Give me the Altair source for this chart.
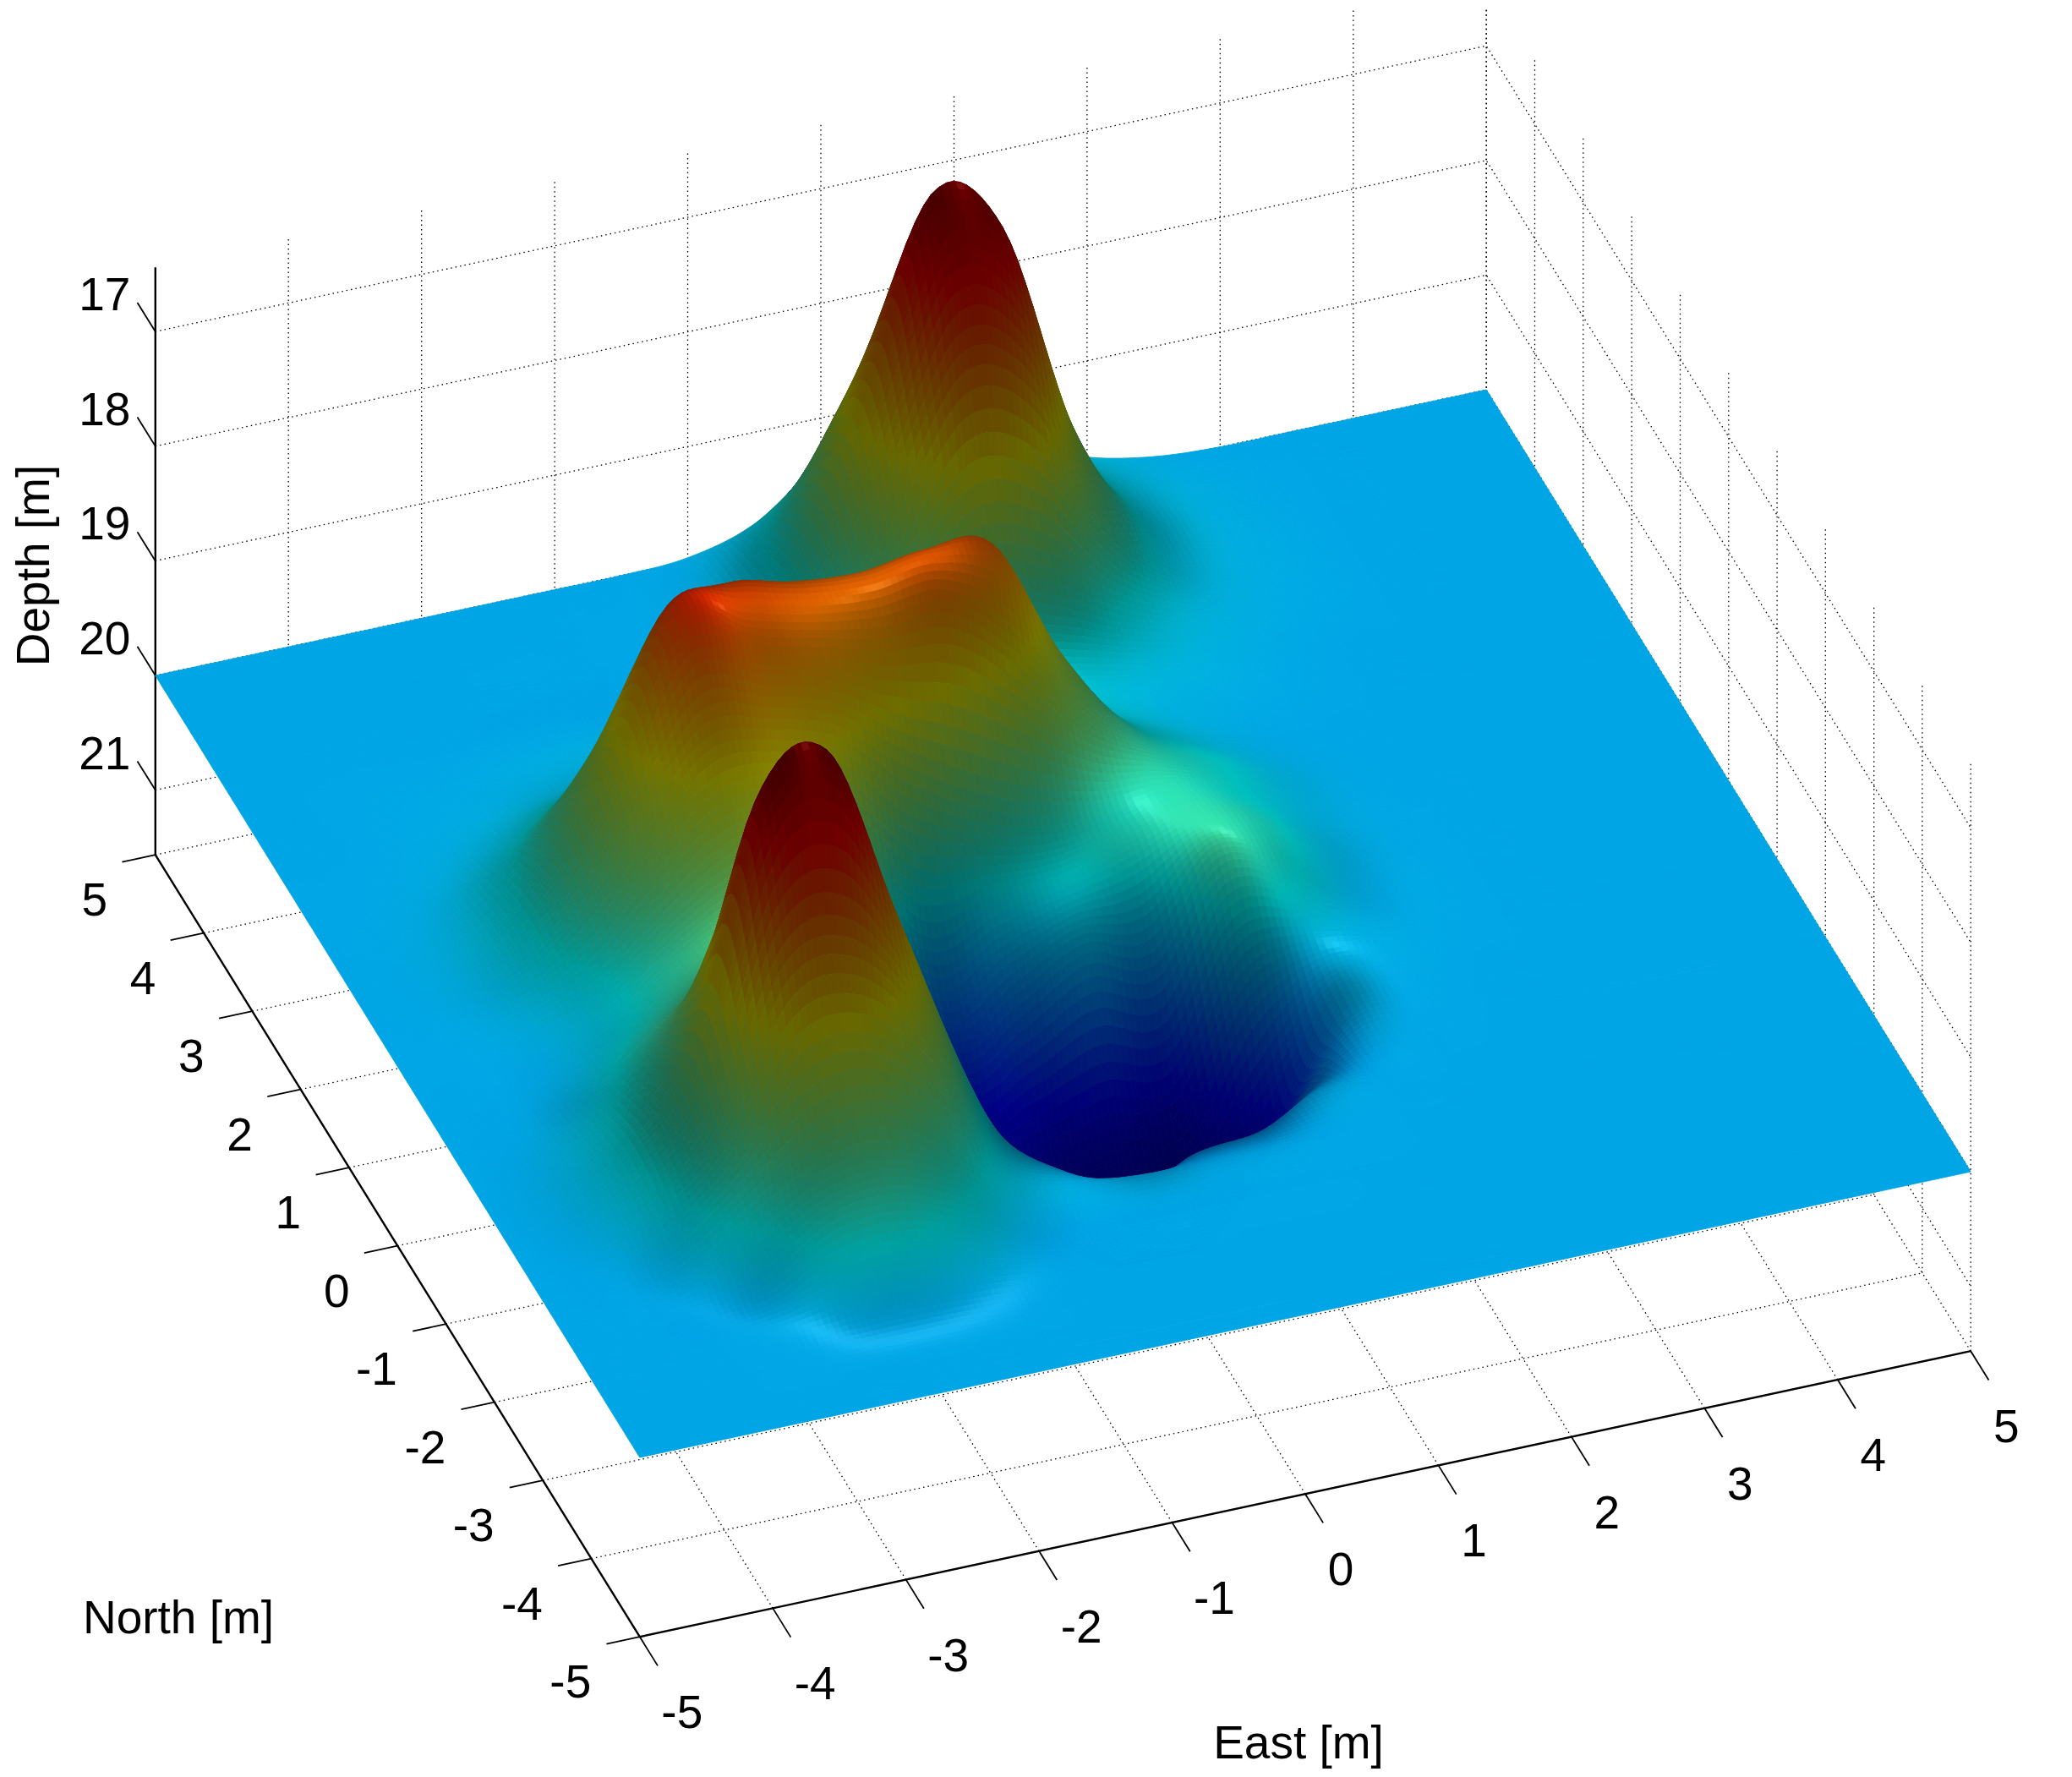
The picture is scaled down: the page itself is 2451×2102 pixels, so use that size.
import numpy as np
import altair as alt

# ---- values -----------------------------------------------------------------
EAST_TICKS = [-5, -4, -3, -2, -1, 0, 1, 2, 3, 4, 5]
NORTH_TICKS = [-5, -4, -3, -2, -1, 0, 1, 2, 3, 4, 5]
DEPTH_TICKS = [17, 18, 19, 20, 21]
# rows run from North 5 down to North -5, columns from East -5 to East 5, every 0.5 m
DEPTH_ROWS = [
 [20,20,20,20,20,20,20,20,19.97,19.8,19.38,19.07,19.2,19.6,19.84,19.96,20,20,20,20,20],
 [20,20,20,20,20,20,20,19.99,19.93,19.55,18.47,17.52,17.8,19.05,19.73,19.91,19.98,20,20,20,20],
 [20,20,20,20,20,20,20,19.98,19.9,19.4,18.05,16.5,16.9,18.7,19.66,19.89,19.97,20,20,20,20],
 [20,20,20,20,20,20,20,19.94,19.85,19.5,18.6,17.55,17.8,19.05,19.73,19.91,19.97,20,20,20,20],
 [20,20,19.99,19.98,19.95,19.93,19.92,19.88,19.81,19.65,19.3,19.02,19.2,19.6,19.84,19.94,19.98,20,20,20,20],
 [20,20,19.98,19.94,19.87,19.8,19.75,19.71,19.68,19.61,19.55,19.55,19.69,19.82,19.91,19.97,20,20,20,20,20],
 [20,19.99,19.95,19.82,19.5,19.2,19,18.89,18.83,18.8,18.98,19.42,19.72,19.89,19.96,19.99,20,20,20,20,20],
 [20,19.98,19.88,19.55,18.8,17.8,17.58,17.68,17.72,17.64,17.7,18.75,19.5,19.8,19.96,20,20,20,20,20,20],
 [20,19.97,19.82,19.4,18.45,17.34,17.6,17.75,17.85,17.85,18.3,19,19.4,19.63,19.89,19.99,20,20,20,20,20],
 [20,19.98,19.85,19.45,18.75,18.1,18.15,18.35,18.85,19.2,19.4,19.45,19.4,19.6,19.88,19.98,20,20,20,20,20],
 [20,19.99,19.92,19.69,19.24,18.87,18.77,19.2,20,19.8,19.7,19.55,19.35,19.5,19.88,19.98,20,20,20,20,20],
 [20,20,19.96,19.7,19.3,19.05,19.05,19.22,20.6,20.35,20.02,20.15,19.4,19.6,19.93,19.98,20,20,20,20,20],
 [20,20,19.88,19.45,19.02,18.85,18.9,19.7,21.1,21.2,21.1,21.1,20.1,19.9,19.95,19.99,20,20,20,20,20],
 [20,19.97,19.72,19.2,17.9,17.8,18.5,19.7,20.95,21.51,21.56,21.56,21,20.02,19.98,20,20,20,20,20,20],
 [20,19.95,19.65,18.95,16.8,16.5,18,19.5,20.8,21.45,21.56,21.4,20.5,20.02,20,20,20,20,20,20,20],
 [20,19.97,19.72,19.2,17.9,17.8,18.5,19.65,20.2,20.75,20.4,20.3,20.02,20,20,20,20,20,20,20,20],
 [20,20,19.9,19.5,19.1,19,19.3,19.78,19.95,20.02,20.02,20.01,20,20,20,20,20,20,20,20,20],
 [20,20,20,19.9,19.55,19.5,19.7,19.97,20,20,20,20,20,20,20,20,20,20,20,20,20],
 [20,20,20,19.98,19.95,19.94,19.97,20,20,20,20,20,20,20,20,20,20,20,20,20,20],
 [20,20,20,20,20,20,20,20,20,20,20,20,20,20,20,20,20,20,20,20,20],
 [20,20,20,20,20,20,20,20,20,20,20,20,20,20,20,20,20,20,20,20,20],
]

# ---- orthographic view of the box --------------------------------------------
MARGIN = 8.0
CENTER = (1257.5, 1092.5)      # screen position of East 0, North 0, Depth 20
E_VEC = (157.45, -33.8)
N_VEC = (-57.3, -92.5)
D_PX = 135.6
D_FLOOR, D_TOP = 21.565, 16.44
LO, HI = -5, 5


def proj(e, n, d):
    return [round(float(CENTER[0] + e * E_VEC[0] + n * N_VEC[0] - MARGIN), 1),
            round(float(CENTER[1] + e * E_VEC[1] + n * N_VEC[1] + (d - 20) * D_PX - MARGIN), 1)]


def line_feat(pts):
    return {"type": "Feature", "properties": {},
            "geometry": {"type": "LineString", "coordinates": pts}}


# ---- surface mesh: the read nodes drawn with a smooth (Catmull-Rom) patch ----
SUB = 10
d0 = np.array(DEPTH_ROWS, float)


def cr_rows(a):
    pad = np.vstack([2 * a[0] - a[1], a, 2 * a[-1] - a[-2]])
    out = []
    for i in range(1, pad.shape[0] - 2):
        p0, p1, p2, p3 = pad[i - 1], pad[i], pad[i + 1], pad[i + 2]
        for k in range(SUB):
            t = k / SUB
            out.append(0.5 * (2 * p1 + (p2 - p0) * t + (2 * p0 - 5 * p1 + 4 * p2 - p3) * t * t
                              + (3 * p1 - p0 - 3 * p2 + p3) * t ** 3))
    out.append(a[-1])
    return np.array(out)


def refine(a):
    return cr_rows(cr_rows(a).T).T


fine = refine(d0)
g_n0, g_e0 = np.gradient(d0, 0.5)
grad_e, grad_n = refine(g_e0), refine(-g_n0)   # smooth normals, as with interpolated shading
nz = 1 / np.sqrt(1 + grad_e ** 2 + grad_n ** 2)
nv = fine.shape[0]
es = np.linspace(LO, HI, nv)
ns = np.linspace(HI, LO, nv)


def jet(t):
    t = min(max(t, 0), 1)
    r = min(max(min(4 * t - 1.5, -4 * t + 4.5), 0), 1)
    g = min(max(min(4 * t - 0.5, -4 * t + 3.5), 0), 1)
    b = min(max(min(4 * t + 0.5, -4 * t + 2.5), 0), 1)
    return r, g, b


def shade(depth, nzv, ge, gn):
    t = (D_FLOOR - depth) / (D_FLOOR - D_TOP)
    s = 0.38 + 0.52 * nzv ** 3
    r, g, b = jet(t)
    spec = np.exp(-(((ge + 0.03) ** 2 + (gn + 0.22) ** 2) / 0.012))
    return "#%02x%02x%02x" % tuple(int(min(255, c * s * 255 + 25 * spec)) for c in (r, g, b))


FLAT = shade(20.0, 1.0, 0.0, 0.0)


def feature(ring, c):
    ring = ring + [ring[0]]
    return {"type": "Feature", "properties": {"c": c},
            "geometry": {"type": "Polygon", "coordinates": [ring]}}


is_flat = (np.abs(fine - 20) < 0.003) & (np.abs(grad_e) < 0.004) & (np.abs(grad_n) < 0.004)
cells = []
for i in range(nv - 1):
    run_start = None
    for j in range(nv - 1, 0, -1):
        jl = j - 1
        q = fine[i:i + 2, jl:j + 1]
        if is_flat[i:i + 2, jl:j + 1].all():
            if run_start is None:
                run_start = j
            continue
        if run_start is not None:
            cells.append(feature([proj(es[j], ns[i], 20), proj(es[run_start], ns[i], 20),
                                  proj(es[run_start], ns[i + 1], 20), proj(es[j], ns[i + 1], 20)], FLAT))
            run_start = None
        ring = [proj(es[jl], ns[i], fine[i, jl]), proj(es[j], ns[i], fine[i, j]),
                proj(es[j], ns[i + 1], fine[i + 1, j]), proj(es[jl], ns[i + 1], fine[i + 1, jl])]
        c = shade(q.mean(), nz[i:i + 2, jl:j + 1].mean(),
                  grad_e[i:i + 2, jl:j + 1].mean(), grad_n[i:i + 2, jl:j + 1].mean())
        cells.append(feature(ring, c))
    if run_start is not None:
        cells.append(feature([proj(es[0], ns[i], 20), proj(es[run_start], ns[i], 20),
                              proj(es[run_start], ns[i + 1], 20), proj(es[0], ns[i + 1], 20)], FLAT))

# ---- grid and axes -----------------------------------------------------------
grid = []
for v in EAST_TICKS:
    if v > LO:
        grid.append(line_feat([proj(v, LO, D_FLOOR), proj(v, HI, D_FLOOR)]))
        grid.append(line_feat([proj(v, HI, D_FLOOR), proj(v, HI, D_TOP)]))
for v in NORTH_TICKS:
    if v > LO:
        grid.append(line_feat([proj(LO, v, D_FLOOR), proj(HI, v, D_FLOOR)]))
    grid.append(line_feat([proj(HI, v, D_FLOOR), proj(HI, v, D_TOP)]))
for v in DEPTH_TICKS:
    grid.append(line_feat([proj(LO, HI, v), proj(HI, HI, v), proj(HI, LO, v)]))

axes = [line_feat([proj(LO, HI, D_TOP), proj(LO, HI, D_FLOOR), proj(LO, LO, D_FLOOR), proj(HI, LO, D_FLOOR)])]
ticks = []
for v in EAST_TICKS:
    ticks.append(line_feat([proj(v, LO, D_FLOOR), proj(v, LO - 0.37, D_FLOOR)]))
for v in NORTH_TICKS:
    ticks.append(line_feat([proj(LO, v, D_FLOOR), proj(LO - 0.25, v, D_FLOOR)]))
for v in DEPTH_TICKS:
    ticks.append(line_feat([proj(LO, HI, v), proj(LO, HI + 0.37, v)]))

labels = []
for v in EAST_TICKS:
    p = proj(v, LO, D_FLOOR)
    labels.append({"t": str(v), "lx": p[0] + (50 if v < 0 else 42), "ly": p[1] + 91})
for v in NORTH_TICKS:
    p = proj(LO, v, D_FLOOR)
    labels.append({"t": str(v), "lx": p[0] + (-82 if v < 0 else -72), "ly": p[1] + 55})
for v in DEPTH_TICKS:
    p = proj(LO, HI, v)
    labels.append({"t": str(v), "lx": p[0] - 60, "ly": p[1] - 42})
for t, sx, sy in [("North [m]", 211, 1915), ("East [m]", 1536, 2063)]:
    labels.append({"t": t, "lx": sx - MARGIN, "ly": sy - MARGIN})
rot = [{"t": "Depth [m]", "lx": 41 - MARGIN, "ly": 669 - MARGIN}]

# ---- chart -------------------------------------------------------------------
PROJ = dict(type="identity", scale=1, translate=[0, 0])


def lines(feats, **kw):
    return alt.Chart(alt.Data(values=feats)).mark_geoshape(filled=False, fill=None, clip=True, stroke="black", **kw).project(**PROJ)


def polys(feats, sw):
    return (alt.Chart(alt.Data(values=feats)).mark_geoshape(strokeWidth=sw, clip=True)
            .encode(fill=alt.Fill("properties.c:N", scale=None),
                    stroke=alt.Stroke("properties.c:N", scale=None)).project(**PROJ))


def texts(rows, **kw):
    return (alt.Chart(alt.Data(values=rows))
            .mark_text(font="Liberation Sans", fontSize=55, color="black", align="center", baseline="middle", **kw)
            .encode(longitude="lx:Q", latitude="ly:Q", text="t:N").project(**PROJ))


chart = alt.layer(
    lines(grid, strokeWidth=1.3, strokeDash=[1.5, 4]),
    lines(axes, strokeWidth=2.4),
    lines(ticks, strokeWidth=1.8),
    polys(cells, 0.9),
    texts(labels),
    texts(rot, angle=270),
).properties(width=2435, height=2086, padding=0, background="white",
             autosize=alt.AutoSizeParams(type="none")).configure_view(stroke=None)

chart.save("out.html", embed_options={"renderer": "svg", "actions": False})
